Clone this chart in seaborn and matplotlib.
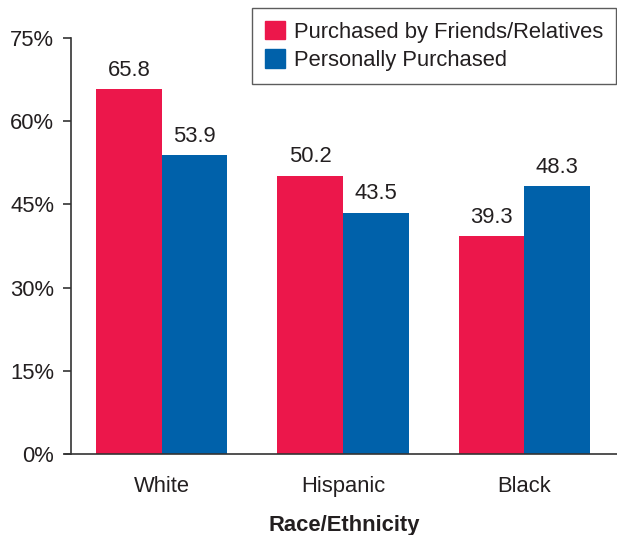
import matplotlib
matplotlib.use("Agg")
import matplotlib.pyplot as plt
import seaborn as sns
import pandas as pd
from matplotlib.ticker import FuncFormatter

groups = ["White", "Hispanic", "Black"]
series = ["Purchased by Friends/Relatives", "Personally Purchased"]
friends_relatives = [65.8, 50.2, 39.3]
personally = [53.9, 43.5, 48.3]
y_ticks = [0, 15, 30, 45, 60, 75]

colors = ["#EC174B", "#0061AA"]
text_color = "#231F20"

df = pd.DataFrame({
    "group": groups * 2,
    "series": [series[0]] * 3 + [series[1]] * 3,
    "value": friends_relatives + personally,
})

sns.set_theme(style="white")
plt.rcParams["font.family"] = ["Liberation Sans", "DejaVu Sans"]
fs = 15.8

fig = plt.figure(figsize=(6.17, 5.35), dpi=100)
ax = fig.add_axes([71 / 617, 1 - 454 / 535, 1 - 71 / 617, (454 - 38) / 535])

sns.barplot(data=df, x="group", y="value", hue="series", order=groups,
            hue_order=series, palette=colors, width=0.725, gap=0,
            saturation=1, errorbar=None, ax=ax, legend=False,
            linewidth=0, edgecolor="none")

for container in ax.containers:
    ax.bar_label(container, labels=[f"{v:.1f}" for v in container.datavalues],
                 padding=6, fontsize=fs, color=text_color)

ax.set_xlim(-0.5, 2.51)
ax.set_ylim(0, 75)
ax.set_yticks(y_ticks)
ax.yaxis.set_major_formatter(FuncFormatter(lambda v, _: f"{v:.0f}%"))

for side in ["top", "right"]:
    ax.spines[side].set_visible(False)
for side in ["left", "bottom"]:
    ax.spines[side].set_color("#333333")
    ax.spines[side].set_linewidth(1.2)
ax.spines["bottom"].set_bounds(-0.533, 2.51)

ax.tick_params(axis="y", which="major", left=True, length=6, width=1.2,
               color="#333333", pad=6, labelsize=fs, labelcolor=text_color)
ax.tick_params(axis="x", which="major", bottom=False, pad=10,
               labelsize=fs, labelcolor=text_color)

ax.set_xlabel("Race/Ethnicity", fontsize=fs, fontweight="bold",
              color=text_color, labelpad=13)
ax.set_ylabel("")

handles = [plt.Rectangle((0, 0), 1, 1, color=c) for c in colors]
leg = fig.legend(handles, series, loc="upper right",
                 bbox_to_anchor=(616 / 617, 1 - 8 / 535),
                 fontsize=fs, frameon=True, fancybox=False,
                 handlelength=0.9, handleheight=0.9, handletextpad=0.4,
                 labelspacing=0.3, borderpad=0.6, borderaxespad=0)
leg.get_frame().set_edgecolor("#333333")
leg.get_frame().set_linewidth(1.0)
for t in leg.get_texts():
    t.set_color(text_color)

fig.savefig("out.png", dpi=100)
